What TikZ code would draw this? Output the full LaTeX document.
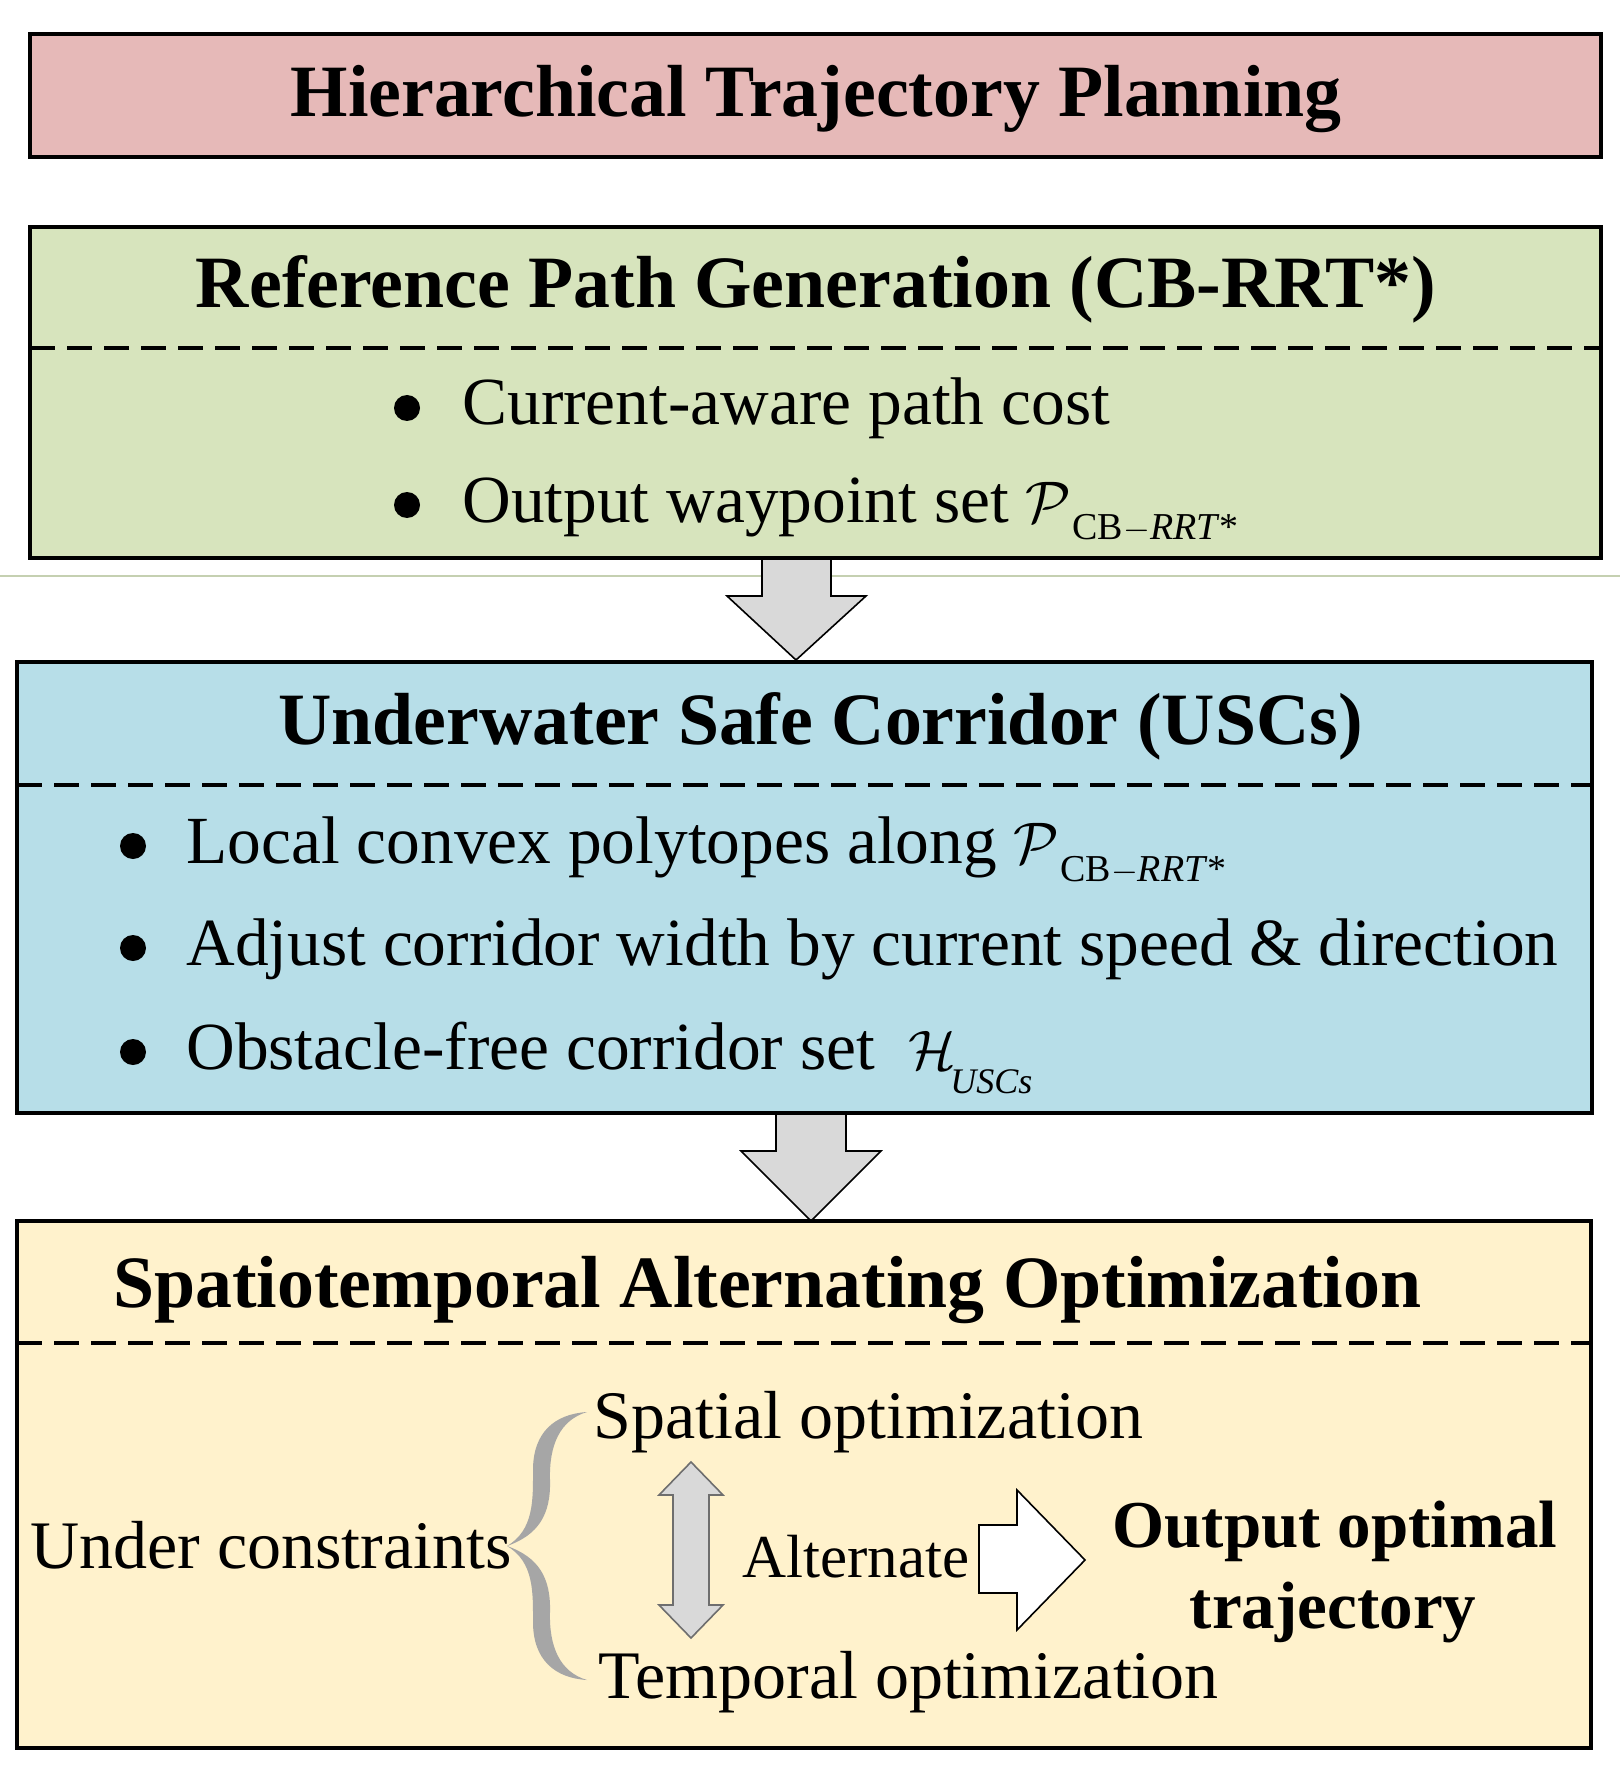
\documentclass[tikz,border=0pt]{standalone}
\usepackage{fontspec}
\usepackage{amsmath}
\usepackage{graphicx}
\setmainfont{Liberation Serif}
\definecolor{pinkfill}{HTML}{E6B9B8}
\definecolor{greenfill}{HTML}{D7E4BD}
\definecolor{bluefill}{HTML}{B7DEE8}
\definecolor{yellowfill}{HTML}{FFF2CC}
\definecolor{arrowgray}{HTML}{D9D9D9}
\definecolor{bracegray}{HTML}{A6A6A6}
\definecolor{edgegray}{HTML}{6E6E6E}
\newcommand{\Pcbrrt}{\scalebox{1.18}{$\mathcal{P}$}\kern0.5pt\raisebox{-9pt}{\fontsize{19pt}{20pt}\selectfont CB$-$\textit{RRT}*}}
\newcommand{\Husc}{\scalebox{1.12}{$\mathcal{H}$}\kern-3pt\raisebox{-12pt}{\fontsize{18pt}{20pt}\selectfont\itshape USCs}}
\begin{document}
\begin{tikzpicture}[x=0.5pt,y=-0.5pt,
  boxframe/.style={draw=black, line width=2.2pt},
  sepline/.style={draw=black, line width=2pt, dash pattern=on 12.5pt off 6pt},
  titletext/.style={font=\fontsize{36.9pt}{40pt}\selectfont\bfseries, inner sep=0pt},
  bodytext/.style={font=\fontsize{33.7pt}{38pt}\selectfont, inner sep=0pt},
  yelltext/.style={font=\fontsize{34pt}{38pt}\selectfont, inner sep=0pt},
  boldbody/.style={font=\fontsize{33.5pt}{40.5pt}\selectfont\bfseries, inner sep=0pt},
  bulletdot/.style={circle, fill=black, inner sep=0pt, minimum size=13pt},
  blockarrow/.style={draw=black, line width=0.8pt, fill=arrowgray, line join=miter},
  dblarrow/.style={draw=edgegray, line width=0.8pt, fill=arrowgray, line join=miter},
  whitearrow/.style={draw=black, line width=0.8pt, fill=white, line join=miter},
  bracestyle/.style={fill=bracegray}
  ]
\useasboundingbox (0,0) rectangle (1620,1770);
\fill[white] (0,0) rectangle (1620,1770);

% faint scan line
\draw[line width=0.6pt, color=greenfill!80!gray] (0,576) -- (1620,576);

% Box 1
\path[boxframe, fill=pinkfill] (30,34) rectangle (1601,157);
\node[titletext, anchor=base] (t1) at (816,117) {Hierarchical Trajectory Planning};

% Box 2
\path[boxframe, fill=greenfill] (30,227) rectangle (1601,558);
\draw[sepline] (30,348) -- (1601,348);
\node[titletext, anchor=base] (t2) at (816,308) {Reference Path Generation (CB-RRT*)};
\node[bulletdot] (b21) at (407,408) {};
\node[bodytext, anchor=base west] (l21) at (462,425) {Current-aware path cost};
\node[bulletdot] (b22) at (407,505) {};
\node[bodytext, anchor=base west] (l22) at (462,522) {Output waypoint set \Pcbrrt};

% Arrow 1
\draw[blockarrow] (762,559) -- (762,596) -- (727,596) -- (796,660) -- (866,596) -- (831,596) -- (831,559) -- cycle;

% Box 3
\path[boxframe, fill=bluefill] (17,662) rectangle (1592,1113);
\draw[sepline] (17,785) -- (1592,785);
\node[titletext, anchor=base west] (t3) at (278,744) {Underwater Safe Corridor (USCs)};
\node[bulletdot] (b31) at (133,846) {};
\node[bodytext, anchor=base west] (l31) at (186,863) {Local convex polytopes along \Pcbrrt};
\node[bulletdot] (b32) at (133,948) {};
\node[bodytext, anchor=base west] (l32) at (186,965) {Adjust corridor width by current speed \& direction};
\node[bulletdot] (b33) at (133,1052) {};
\node[bodytext, anchor=base west] (l33) at (186,1069) {Obstacle-free corridor set \ \Husc};

% Arrow 2
\draw[blockarrow] (776,1114) -- (776,1151) -- (741,1151) -- (811,1221) -- (881,1151) -- (846,1151) -- (846,1114) -- cycle;

% Box 4
\path[boxframe, fill=yellowfill] (17,1221) rectangle (1591,1748);
\draw[sepline] (17,1343) -- (1591,1343);
\node[titletext, anchor=base west] (t4) at (113,1307) {Spatiotemporal Alternating Optimization};

\node[yelltext, anchor=base west] (uc) at (30,1568) {Under constraints};
\node[yelltext, anchor=base west] (sp) at (593,1438) {Spatial optimization};
\node[yelltext, anchor=base west] (tp) at (598,1698) {Temporal optimization};
\node[font=\fontsize{30.5pt}{35pt}\selectfont, inner sep=0pt, anchor=base west] (alt) at (742,1577) {Alternate};
\node[boldbody, anchor=base] (out1) at (1335,1547) {Output optimal};
\node[boldbody, anchor=base] (out2) at (1333,1628) {trajectory};

% brace (filled, tapered)
\path[bracestyle] (587,1412) .. controls (555,1414) and (533,1432) .. (533,1470)
  .. controls (533,1500) and (534,1530) .. (507,1546)
  .. controls (534,1562) and (533,1592) .. (533,1622)
  .. controls (533,1660) and (555,1678) .. (587,1680)
  .. controls (560,1672) and (549,1647) .. (550,1612)
  .. controls (551,1577) and (538,1557) .. (507,1546)
  .. controls (538,1535) and (551,1515) .. (550,1480)
  .. controls (549,1445) and (560,1420) .. (587,1412) -- cycle;

% double arrow
\draw[dblarrow] (691,1462) -- (723,1495) -- (709,1495) -- (709,1605) -- (723,1605) -- (691,1638) -- (659,1605) -- (673,1605) -- (673,1495) -- (659,1495) -- cycle;

% white arrow
\draw[whitearrow] (979,1525) -- (1017,1525) -- (1017,1490) -- (1085,1560) -- (1017,1630) -- (1017,1593) -- (979,1593) -- cycle;
\end{tikzpicture}
\end{document}
